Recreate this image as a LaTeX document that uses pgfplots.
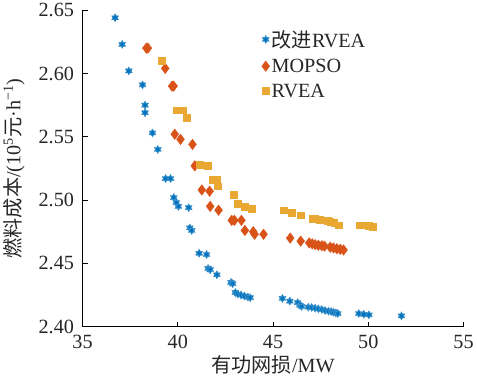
\documentclass[border=0pt]{standalone}
\usepackage{pgfplots}
\pgfplotsset{compat=1.18}
\usepackage{fontspec}
\setmainfont{Liberation Serif}
\newfontfamily\cjk{Noto Sans CJK SC}
\definecolor{cA}{RGB}{0,114,189}
\definecolor{cB}{RGB}{217,83,25}
\definecolor{cC}{RGB}{232,168,50}
\pgfdeclareplotmark{hexa}{%
  \pgfpathmoveto{\pgfqpointpolar{90}{\pgfplotmarksize}}%
  \pgfpathlineto{\pgfqpointpolar{210}{\pgfplotmarksize}}%
  \pgfpathlineto{\pgfqpointpolar{330}{\pgfplotmarksize}}%
  \pgfpathclose
  \pgfpathmoveto{\pgfqpointpolar{270}{\pgfplotmarksize}}%
  \pgfpathlineto{\pgfqpointpolar{30}{\pgfplotmarksize}}%
  \pgfpathlineto{\pgfqpointpolar{150}{\pgfplotmarksize}}%
  \pgfpathclose
  \pgfusepathqfillstroke}
\begin{document}
\begin{tikzpicture}
\begin{axis}[
  scale only axis,
  width=378pt, height=314pt,
  xmin=35, xmax=55, ymin=2.40, ymax=2.65,
  xtick={35,40,45,50,55},
  ytick={2.40,2.45,2.50,2.55,2.60,2.65},
  axis x line*=bottom, axis y line*=left,
  axis line style={-, black, line width=0.8pt},
  tick align=inside,
  major tick length=5pt,
  tick style={black, line width=0.8pt},
  /pgf/number format/assume math mode=true,
  yticklabel style={xshift=-5pt, /pgf/number format/fixed, /pgf/number format/fixed zerofill, /pgf/number format/precision=2},
  xticklabel style={yshift=-5pt, /pgf/number format/fixed},
  ticklabel style={font=\fontsize{20}{22}\selectfont, text=black!85},
  label style={font=\fontsize{20}{22}\selectfont, text=black!85},
  xlabel={{\cjk 有功网损}/MW},
  ylabel={{\cjk 燃料成本}/(10\textsuperscript{5}{\cjk 元}·h\textsuperscript{−1})},
  xlabel style={yshift=0pt},
  ylabel style={yshift=7pt},
  legend style={draw=none, fill=none, at={(0.462,0.95)}, anchor=north west,
    font=\fontsize{20}{22}\selectfont, row sep=6pt, text=black!85},
  legend cell align=left,
  clip=false,
]
\addplot[only marks, mark=hexa, mark size=4pt, color=cA, mark options={line width=0.4pt, draw=cA!75, fill=cA}] coordinates {
(36.71,2.644) (37.08,2.623) (37.43,2.602) (38.15,2.591) (38.28,2.575) (38.28,2.569)
(38.67,2.553) (38.95,2.540) (39.36,2.517) (39.62,2.517) (39.79,2.502) (39.92,2.498)
(40.03,2.495) (40.57,2.494) (40.63,2.478) (40.73,2.476) (41.12,2.458) (41.51,2.457)
(41.59,2.446) (41.70,2.445) (42.05,2.441) (42.79,2.435) (42.88,2.434) (43.02,2.427)
(43.15,2.4258) (43.32,2.4250) (43.50,2.4242) (43.68,2.4234) (43.80,2.4229)
(45.49,2.4223) (45.88,2.4202) (46.29,2.419) (46.41,2.417) (46.50,2.416)
(46.85,2.4154) (47.03,2.4152) (47.21,2.4146) (47.38,2.4141) (47.56,2.4136) (47.73,2.4128)
(47.91,2.4122) (48.05,2.4120) (48.17,2.4114) (48.30,2.4109) (48.40,2.4104)
(49.50,2.4104) (49.76,2.4098) (50.03,2.4093) (51.74,2.4085)
};
\addlegendentry{{\cjk 改进}RVEA}
\addplot[only marks, mark=diamond*, mark size=5.2pt, color=cB, mark options={fill=cB, draw=cB}] coordinates {
(38.35,2.620) (38.43,2.620) (39.34,2.604) (39.70,2.590) (39.78,2.590)
(39.84,2.552) (40.14,2.548) (40.77,2.544) (40.89,2.527)
(41.26,2.508) (41.67,2.507) (41.70,2.495) (42.14,2.492)
(42.83,2.484) (42.97,2.484) (43.34,2.484) (43.52,2.476) (43.96,2.475) (44.03,2.473)
(44.50,2.473) (45.90,2.470) (46.45,2.4676)
(46.90,2.4662) (47.06,2.4654) (47.21,2.4648) (47.38,2.4643) (47.56,2.4640) (47.70,2.4636)
(48.00,2.4628) (48.17,2.4622) (48.35,2.4616) (48.53,2.4611) (48.70,2.4606)
};
\addlegendentry{MOPSO}
\addplot[only marks, mark=square*, mark size=3.4pt, color=cC, mark options={fill=cC, draw=cC}] coordinates {
(39.14,2.610) (39.92,2.571) (40.25,2.571) (40.47,2.565) (41.16,2.528) (41.59,2.527)
(41.85,2.516) (42.04,2.516) (42.10,2.511) (42.95,2.504) (43.13,2.497) (43.50,2.495)
(43.90,2.493) (45.54,2.492) (45.97,2.490) (46.44,2.488)
(47.06,2.4851) (47.20,2.4851) (47.43,2.4845) (47.86,2.4834) (48.00,2.4829) (48.21,2.4818)
(48.44,2.4802) (49.53,2.4802) (49.76,2.4802) (50.03,2.4799) (50.25,2.4791)
};
\addlegendentry{RVEA}
\end{axis}
\end{tikzpicture}
\end{document}
